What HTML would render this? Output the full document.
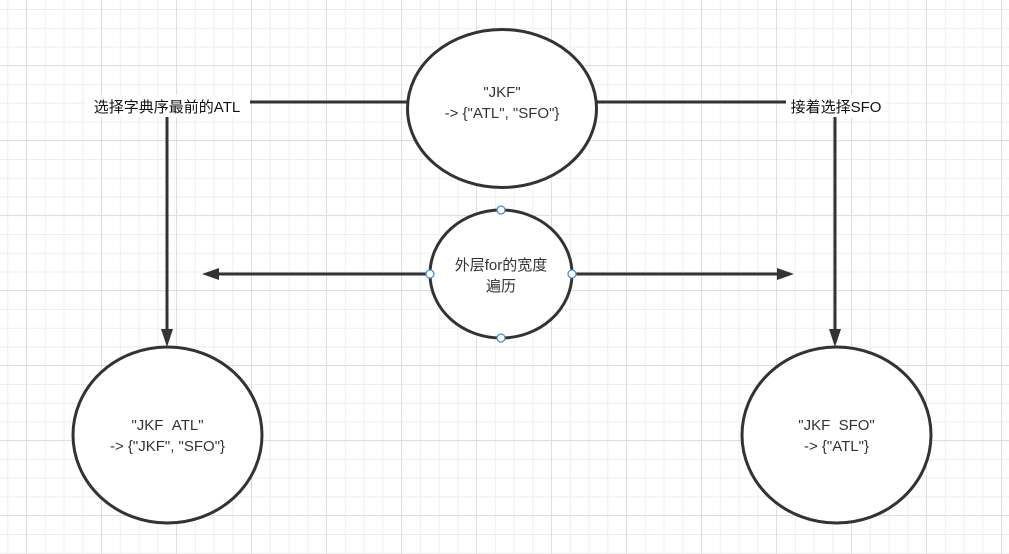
<!DOCTYPE html>
<html><head><meta charset="utf-8"><style>
html,body{margin:0;padding:0;background:#fff;}
svg{display:block}
text{font-family:"Liberation Sans","Noto Sans CJK SC",sans-serif;font-size:15px;fill:#333;white-space:pre;}
</style></head><body>
<svg width="1009" height="554" viewBox="0 0 1009 554" xmlns="http://www.w3.org/2000/svg">
<defs>
<pattern id="g" x="7.3" y="9" width="18.75" height="18.75" patternUnits="userSpaceOnUse">
<path d="M0 0.5H18.75M0.5 0V18.75" stroke="#eeeeee" stroke-width="1" fill="none"/>
</pattern>
<pattern id="G" x="26" y="-10" width="75" height="75" patternUnits="userSpaceOnUse">
<path d="M0 0.5H75M0.5 0V75" stroke="#dedede" stroke-width="1" fill="none"/>
</pattern>
</defs>
<rect width="1009" height="554" fill="url(#g)"/>
<rect width="1009" height="554" fill="url(#G)"/>
<g stroke="#333" stroke-width="3" fill="none">
<path d="M407 102H167V332"/>
<path d="M597 102H835V332"/>
<path d="M430 274H216"/>
<path d="M572 274H779"/>
</g>
<g fill="#333">
<path d="M167 347L161 329H173Z"/>
<path d="M835 347L829 329H841Z"/>
<path d="M202 274L219 268V280Z"/>
<path d="M794 274L777 268V280Z"/>
</g>
<rect x="86" y="95" width="164" height="22" fill="#fff"/>
<text x="167" y="112" text-anchor="middle" style="fill:#111">选择字典序最前的ATL</text>
<rect x="786" y="95" width="100" height="22" fill="#fff"/>
<text x="836" y="112" text-anchor="middle" style="fill:#111">接着选择SFO</text>
<g stroke="#333" stroke-width="3" fill="#fff">
<ellipse cx="502" cy="108.5" rx="94.5" ry="79"/>
<ellipse cx="501" cy="274" rx="71" ry="64"/>
<ellipse cx="167.5" cy="435" rx="94.5" ry="88"/>
<ellipse cx="836.5" cy="435" rx="94.5" ry="88"/>
</g>
<g fill="#fff" stroke="#3d8ee8" stroke-width="1.3">
<circle cx="501" cy="210" r="4"/>
<circle cx="501" cy="338" r="4"/>
<circle cx="430" cy="274" r="4"/>
<circle cx="572" cy="274" r="4"/>
</g>
<text x="502" y="97" text-anchor="middle">"JKF"</text>
<text x="502" y="118" text-anchor="middle">-&gt; {"ATL", "SFO"}</text>
<text x="501" y="270" text-anchor="middle">外层for的宽度</text>
<text x="501" y="291" text-anchor="middle">遍历</text>
<text x="167.5" y="430" text-anchor="middle">"JKF&#160;&#160;ATL"</text>
<text x="167.5" y="451" text-anchor="middle">-&gt; {"JKF", "SFO"}</text>
<text x="836.5" y="430" text-anchor="middle">"JKF&#160;&#160;SFO"</text>
<text x="836.5" y="451" text-anchor="middle">-&gt; {"ATL"}</text>
</svg>
</body></html>
